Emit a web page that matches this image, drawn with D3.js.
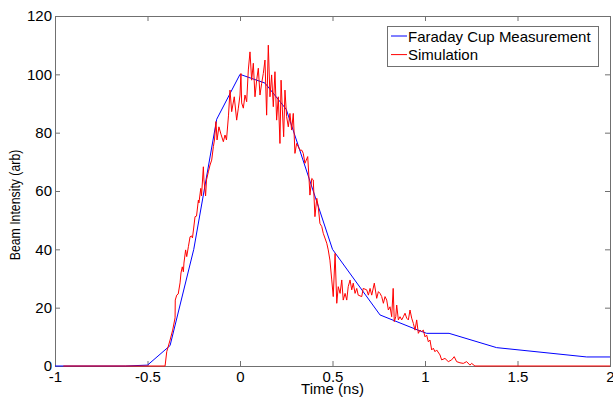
<!DOCTYPE html>
<html>
<head>
<meta charset="utf-8">
<script src="https://cdn.jsdelivr.net/npm/d3@7"></script>
<style>
    body { margin: 0; background: #fff; }
    svg text { font-family: "Liberation Sans", Arial, sans-serif; fill: #000; }
</style>
</head>
<body>
<div id="chart"></div>
<script>

// Faraday cup measurement (time in ns, intensity in arb)
let cupTime = [-1, -0.62, -0.5, -0.378, -0.25, -0.126, 0, 0.135, 0.25, 0.5, 0.757, 0.962, 1.009, 1.13, 1.387, 1.874, 2];
let cupValue = [0, 0, 0.3, 7, 40, 84.6, 100, 97, 88, 40, 17.5, 12.3, 11.2, 11.2, 6.3, 3.1, 3.1];

// Simulation trace
let simTime = [-0.955, -0.405, -0.396, -0.378, -0.364, -0.351, -0.350, -0.342, -0.334, -0.324, -0.319,
    -0.312, -0.306, -0.303, -0.294, -0.288, -0.279, -0.270, -0.262, -0.257, -0.249, -0.243, -0.235,
    -0.225, -0.222, -0.212, -0.208, -0.198, -0.195, -0.186, -0.181, -0.171, -0.162, -0.153, -0.144,
    -0.138, -0.130, -0.124, -0.114, -0.103, -0.090, -0.081, -0.073, -0.062, -0.054, -0.045, -0.031,
    -0.018, -0.009, 0, 0.005, 0.009, 0.018, 0.027, 0.036, 0.045, 0.054, 0.063, 0.072, 0.081, 0.090,
    0.099, 0.108, 0.117, 0.126, 0.135, 0.144, 0.153, 0.162, 0.171, 0.180, 0.189, 0.198, 0.207, 0.216,
    0.222, 0.229, 0.236, 0.243, 0.252, 0.261, 0.270, 0.279, 0.288, 0.297, 0.306, 0.315, 0.324, 0.334,
    0.342, 0.351, 0.366, 0.373, 0.378, 0.388, 0.396, 0.405, 0.415, 0.423, 0.432, 0.442, 0.450, 0.469,
    0.477, 0.486, 0.496, 0.504, 0.514, 0.523, 0.531, 0.541, 0.550, 0.558, 0.568, 0.577, 0.585, 0.595,
    0.604, 0.612, 0.622, 0.631, 0.639, 0.658, 0.666, 0.685, 0.694, 0.703, 0.712, 0.726, 0.739, 0.748,
    0.757, 0.766, 0.775, 0.784, 0.793, 0.802, 0.811, 0.820, 0.828, 0.834, 0.842, 0.847, 0.856, 0.865,
    0.874, 0.883, 0.892, 0.901, 0.910, 0.919, 0.928, 0.937, 0.946, 0.955, 0.964, 0.973, 0.982, 0.991,
    1.000, 1.009, 1.018, 1.027, 1.036, 1.045, 1.054, 1.063, 1.081, 1.090, 1.108, 1.126, 1.144, 1.158,
    1.171, 1.189, 1.207, 1.225, 1.243, 1.252, 1.270, 2];
let simValue = [0, 0, 4.9, 8.9, 12.3, 16.5, 22.6, 24.3, 24.7, 28.5, 31.9,
    34.0, 32.3, 35.3, 39.8, 37.5, 40.9, 44.3, 44.6, 43.9, 48.0, 51.2, 51.4,
    56.9, 55.9, 60.9, 58.3, 68.3, 63.8, 58.3, 63.8, 66.6, 68.9, 70.6, 75.2,
    77.5, 83.8, 77.5, 82.0, 79.5, 76.9, 79.2, 77.5, 86.0, 94.6, 87.2, 92.3,
    84.3, 88.4, 92.9, 100.3, 90.2, 88.4, 92.9, 90.6, 101.5, 107.7, 98.0, 103.8, 92.3, 98.0,
    102.1, 92.9, 96.9, 100.3, 104.9, 86.0, 110.0, 92.3, 99.8, 88.9, 100.9, 84.3, 92.3, 76.3,
    98.0, 87.8, 78.6, 94.6, 85.5, 82.0, 86.6, 80.9, 86.6, 72.9, 76.3, 75.2, 74.0, 74.0,
    72.9, 69.5, 71.8, 64.3, 58.6, 64.3, 63.8, 51.2, 57.5, 54.6, 48.9, 47.8, 45.5, 42.1,
    39.8, 36.3, 29.5, 23.8, 38.6, 21.5, 27.2, 24.9, 29.5, 22.6, 24.9, 22.6, 27.2, 29.5,
    26.1, 28.4, 24.9, 26.6, 24.3, 23.8, 26.6, 26.1, 24.3, 26.6, 24.3, 28.4, 23.2, 25.5,
    24.9, 23.8, 21.5, 23.8, 22.6, 19.2, 20.3, 16.9, 26.6, 15.2, 16.9, 20.9, 15.8, 16.9,
    15.8, 16.9, 18.1, 16.4, 15.8, 19.2, 16.4, 14.6, 12.3, 15.8, 11.2, 12.3, 11.8, 12.3,
    10.0, 10.6, 8.3, 8.9, 5.5, 6.1, 4.9, 5.5, 3.8, 2.1, 2.6, 1.5, 2.1, 3.2,
    1.5, 1.1, 0.9, 1.5, 0.3, 0.9, 0, 0];

// axis ticks
let xTicks = [-1, -0.5, 0, 0.5, 1, 1.5, 2];
let xTickLabels = ["-1", "-0.5", "0", "0.5", "1", "1.5", "2"];
let yTicks = [0, 20, 40, 60, 80, 100, 120];
let yTickLabels = ["0", "20", "40", "60", "80", "100", "120"];

let legendNames = ["Faraday Cup Measurement", "Simulation"];
let legendColors = ["#0000ff", "#ff0000"];

let margin = {top: 16, right: 3, bottom: 35, left: 55};
let width = 613 - margin.left - margin.right;
let height = 401 - margin.top - margin.bottom;

let svg = d3.select("#chart").append("svg")
    .attr("width", 613)
    .attr("height", 401)
    .append("g")
    .attr("transform", "translate(" + margin.left + "," + margin.top + ")");

let x = d3.scaleLinear().domain([-1, 2]).range([0, width]);
let y = d3.scaleLinear().domain([0, 120]).range([height, 0]);

let axisColor = "#707070";

// axes: ticks point inward, labels only bottom/left
let xAxis = d3.axisBottom(x).tickValues(xTicks)
    .tickFormat((d, i) => xTickLabels[i])
    .tickSizeInner(-5).tickSizeOuter(0).tickPadding(5);
let yAxis = d3.axisLeft(y).tickValues(yTicks)
    .tickFormat((d, i) => yTickLabels[i])
    .tickSizeInner(-5).tickSizeOuter(0).tickPadding(3);
let xAxisTop = d3.axisTop(x).tickValues(xTicks).tickFormat("")
    .tickSizeInner(-5).tickSizeOuter(0);
let yAxisRight = d3.axisRight(y).tickValues(yTicks).tickFormat("")
    .tickSizeInner(-5).tickSizeOuter(0);

function styleAxis(g) {
    g.select(".domain").remove();
    g.selectAll(".tick line").attr("stroke", axisColor);
    g.selectAll(".tick text")
        .style("font-size", "15px")
        .style("font-family", "'Liberation Sans', Arial, sans-serif")
        .attr("fill", "#000");
}

svg.append("g").attr("transform", "translate(0," + height + ")").call(xAxis).call(styleAxis);
svg.append("g").call(yAxis).call(styleAxis);
svg.append("g").call(xAxisTop).call(styleAxis);
svg.append("g").attr("transform", "translate(" + width + ",0)").call(yAxisRight).call(styleAxis);

// axes box
svg.append("rect")
    .attr("x", 0.5).attr("y", 0.5)
    .attr("width", width).attr("height", height)
    .attr("fill", "none")
    .attr("stroke", axisColor);

// lines
let line = d3.line()
    .x(d => x(d[0]))
    .y(d => y(d[1]));

let cupData = cupTime.map((t, i) => [t, cupValue[i]]);
let simData = simTime.map((t, i) => [t, simValue[i]]);

svg.append("path")
    .datum(cupData)
    .attr("fill", "none")
    .attr("stroke", legendColors[0])
    .attr("stroke-width", 1)
    .attr("d", line);

svg.append("path")
    .datum(simData)
    .attr("fill", "none")
    .attr("stroke", legendColors[1])
    .attr("stroke-width", 1)
    .attr("d", line);

// axis labels
svg.append("text")
    .attr("x", width / 2)
    .attr("y", height + 28)
    .attr("text-anchor", "middle")
    .style("font-size", "15px")
    .text("Time (ns)");

// y label is a bit squeezed along its length, like the reference
svg.append("text")
    .attr("transform", "translate(" + (-35) + "," + (height / 2 + 14) + ") rotate(-90) scale(0.82,1)")
    .attr("text-anchor", "middle")
    .style("font-size", "15px")
    .text("Beam Intensity (arb)");

// legend
let legend = svg.append("g")
    .attr("transform", "translate(" + (387 - margin.left) + "," + (26 - margin.top) + ")");

legend.append("rect")
    .attr("x", 0.5).attr("y", 0.5)
    .attr("width", 211).attr("height", 40)
    .attr("fill", "#fff")
    .attr("stroke", axisColor);

legendNames.forEach((name, i) => {
    let ly = 10 + i * 18.6;
    legend.append("line")
        .attr("x1", 4).attr("x2", 20)
        .attr("y1", ly).attr("y2", ly)
        .attr("stroke", legendColors[i])
        .attr("stroke-width", 1);
    legend.append("text")
        .attr("x", 21)
        .attr("y", ly + 5.5)
        .style("font-size", "15px")
        .text(name);
});

</script>
</body>
</html>
